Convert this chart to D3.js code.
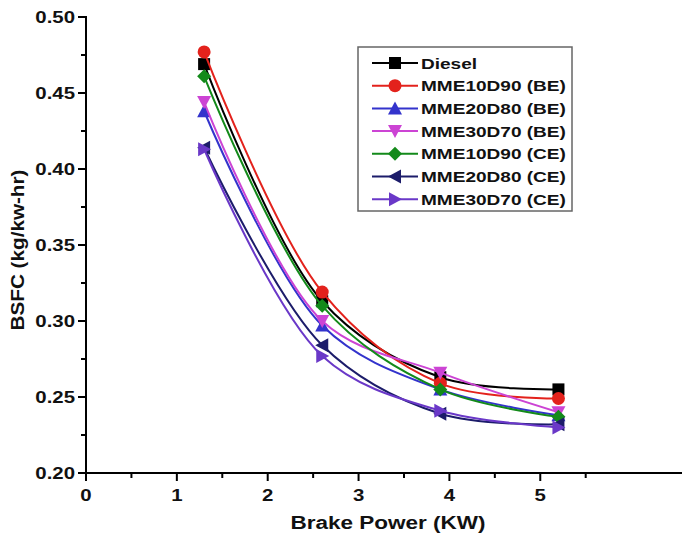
<!DOCTYPE html>
<html>
<head>
<meta charset="utf-8">
<script src="https://cdn.jsdelivr.net/npm/d3@7"></script>
<style>
  body { margin: 0; background: #fff; }
  text { font-family: "Liberation Sans", Arial, sans-serif; font-weight: bold; fill: #111; }
</style>
</head>
<body>
<svg id="chart" width="682" height="540"></svg>
<script>
// brake power (KW)
var power = [1.3, 2.6, 3.9, 5.2];

var names = ["Diesel", "MME10D90 (BE)", "MME20D80 (BE)", "MME30D70 (BE)",
  "MME10D90 (CE)", "MME20D80 (CE)", "MME30D70 (CE)"];

// BSFC (kg/kw-hr)
var diesel = [0.469, 0.313, 0.263, 0.255];
var mme10be = [0.477, 0.319, 0.259, 0.249];
var mme20be = [0.438, 0.297, 0.255, 0.238];
var mme30be = [0.444, 0.300, 0.266, 0.240];
var mme10ce = [0.461, 0.310, 0.255, 0.237];
var mme20ce = [0.414, 0.284, 0.239, 0.232];
var mme30ce = [0.413, 0.277, 0.241, 0.230];

var xTicks = [0, 1, 2, 3, 4, 5];
var yTicks = [0.20, 0.25, 0.30, 0.35, 0.40, 0.45, 0.50];

var colors = ["#000000", "#e3221c", "#3333cc", "#cc44d4", "#138a1a", "#1c1c6a", "#6a38c8"];
var symbols = ["square", "circle", "up", "down", "diamond", "left", "right"];

var series = [diesel, mme10be, mme20be, mme30be, mme10ce, mme20ce, mme30ce];

const svg = d3.select("#chart");
const x = d3.scaleLinear().domain([0, 6.56]).range([86, 682]);
const y = d3.scaleLinear().domain([0.20, 0.50]).range([473, 17]);

// text stretched sideways like the scanned figure
function label(g, tx, ty, str, size, anchor, sx) {
  return g.append("text")
    .attr("transform", "translate(" + tx + "," + ty + ") scale(" + sx + ",1)")
    .attr("text-anchor", anchor).attr("font-size", size).text(str);
}

// axes
const xAxis = svg.append("g").attr("transform", "translate(0,473)");
xAxis.append("line").attr("x1", 85).attr("x2", 682).attr("stroke", "#000").attr("stroke-width", 2);
const xMinor = d3.range(0.5, 6.5, 1);
xAxis.selectAll(".maj").data(xTicks).enter().append("line")
  .attr("x1", d => x(d)).attr("x2", d => x(d)).attr("y1", 0).attr("y2", 8)
  .attr("stroke", "#000").attr("stroke-width", 2);
xAxis.selectAll(".min").data(xMinor).enter().append("line")
  .attr("x1", d => x(d)).attr("x2", d => x(d)).attr("y1", 0).attr("y2", 5)
  .attr("stroke", "#000").attr("stroke-width", 2);
xTicks.forEach(d => label(xAxis, x(d), 28, d, 17, "middle", 1.2));

const yAxis = svg.append("g").attr("transform", "translate(86,0)");
yAxis.append("line").attr("y1", 16).attr("y2", 474).attr("stroke", "#000").attr("stroke-width", 2);
const yMinor = d3.range(0.225, 0.5, 0.05);
yAxis.selectAll(".maj").data(yTicks).enter().append("line")
  .attr("y1", d => y(d)).attr("y2", d => y(d)).attr("x1", 0).attr("x2", -8)
  .attr("stroke", "#000").attr("stroke-width", 2);
yAxis.selectAll(".min").data(yMinor).enter().append("line")
  .attr("y1", d => y(d)).attr("y2", d => y(d)).attr("x1", 0).attr("x2", -5)
  .attr("stroke", "#000").attr("stroke-width", 2);
yTicks.forEach(d => label(yAxis, -11, y(d) + 6, d.toFixed(2), 17, "end", 1.2));

label(svg, 388, 529, "Brake Power (KW)", 18, "middle", 1.25);
svg.append("text").attr("transform", "translate(24,250) rotate(-90) scale(1.15,1)")
  .attr("text-anchor", "middle").attr("font-size", 18).text("BSFC (kg/kw-hr)");

function marker(g, sym, color, cx, cy) {
  const s = 6;
  let p;
  if (sym == "square")
    p = g.append("rect").attr("x", cx - s).attr("y", cy - s).attr("width", 2 * s).attr("height", 2 * s);
  else if (sym == "circle")
    p = g.append("circle").attr("cx", cx).attr("cy", cy).attr("r", s + 0.5);
  else {
    let pts;
    if (sym == "up") pts = [[0, -s - 1], [s + 1, s], [-s - 1, s]];
    if (sym == "down") pts = [[0, s + 1], [s + 1, -s], [-s - 1, -s]];
    if (sym == "left") pts = [[-s - 1, 0], [s, -s - 1], [s, s + 1]];
    if (sym == "right") pts = [[s + 1, 0], [-s, -s - 1], [-s, s + 1]];
    if (sym == "diamond") pts = [[0, -s - 1], [s + 1, 0], [0, s + 1], [-s - 1, 0]];
    p = g.append("polygon").attr("points", pts.map(q => (cx + q[0]) + "," + (cy + q[1])).join(" "));
  }
  p.attr("fill", color);
}

const line = d3.line().x(d => x(d[0])).y(d => y(d[1])).curve(d3.curveCatmullRom.alpha(0.5));

for (let i = 0; i < series.length; i++) {
  const pts = power.map((p, j) => [p, series[i][j]]);
  const g = svg.append("g");
  g.append("path").attr("d", line(pts)).attr("fill", "none")
    .attr("stroke", colors[i]).attr("stroke-width", 2);
  pts.forEach(d => marker(g, symbols[i], colors[i], x(d[0]), y(d[1])));
}

// legend
const legend = svg.append("g");
legend.append("rect").attr("x", 358).attr("y", 47).attr("width", 214).attr("height", 164)
  .attr("fill", "#fff").attr("stroke", "#666").attr("stroke-width", 1.5);
for (let i = 0; i < names.length; i++) {
  const ly = 63 + i * 22.7;
  legend.append("line").attr("x1", 372).attr("x2", 418).attr("y1", ly).attr("y2", ly)
    .attr("stroke", colors[i]).attr("stroke-width", 2);
  marker(legend, symbols[i], colors[i], 395, ly);
  label(legend, 421, ly + 5.5, names[i], 15, "start", 1.27);
}
</script>
</body>
</html>
